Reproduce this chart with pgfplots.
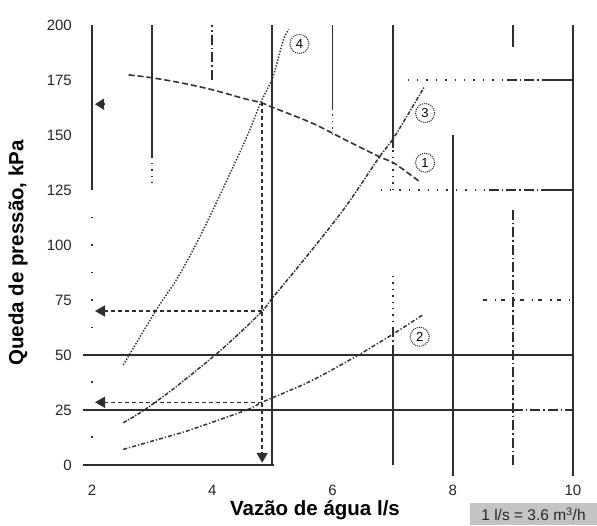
\documentclass[border=0pt]{standalone}
\usepackage{fontspec}
\setmainfont{Liberation Sans}
\usepackage{pgfplots}
\pgfplotsset{compat=1.18}
\usetikzlibrary{arrows.meta}
\definecolor{grd}{HTML}{2E2E2E}
\definecolor{crv}{HTML}{333333}
\definecolor{boxgray}{HTML}{C4C4C4}
\begin{document}
\begin{tikzpicture}
\path[use as bounding box] (-92pt,-60pt) rectangle (505pt,465pt);
\begin{axis}[
  scale only axis, width=481pt, height=440pt,
  at={(0,0)}, anchor=south west,
  xmin=2, xmax=10, ymin=0, ymax=200,
  clip=false,
  axis line style={draw=none},
  major tick length=0pt,
  xtick={2,4,6,8,10}, ytick={0,25,50,75,100,125,150,175,200},
  /pgf/number format/assume math mode=true,
  tick label style={font=\fontsize{15}{17}\selectfont, text=black!85},
  xticklabel style={anchor=center, inner sep=0pt, yshift=-25pt},
  yticklabel style={anchor=east, inner sep=0pt, xshift=-20pt},
  xlabel={Vazão de água l/s},
  ylabel={Queda de pressão, kPa},
  xlabel style={at={(axis description cs:0.4636,0)}, anchor=center, yshift=-45pt, font=\fontsize{20.5}{24}\selectfont\bfseries},
  ylabel style={at={(axis description cs:0,0.482)}, anchor=center, yshift=74pt, font=\fontsize{20.5}{24}\selectfont\bfseries},
  gridline/.style={color=grd, line width=1.8pt, forget plot},
  griddot/.style={color=grd, line width=1.8pt, dash pattern=on 1.4pt off 5pt, forget plot},
  griddd/.style={color=grd, line width=1.8pt, dash pattern=on 10pt off 3pt on 1.5pt off 3pt, forget plot},
]
% ---- grid (vertical) ----
\addplot[gridline] coordinates {(2,125) (2,200)};
\addplot[griddot, dash pattern=on 1.4pt off 26pt] coordinates {(2,0) (2,122)};
\addplot[gridline] coordinates {(3,140) (3,200)};
\addplot[griddot] coordinates {(3,128) (3,140)};
\addplot[griddd] coordinates {(4,175) (4,200)};
\addplot[gridline] coordinates {(5,0) (5,200)};
\addplot[gridline] coordinates {(6,162) (6,200)};
\addplot[griddot] coordinates {(6,150) (6,162)};
\addplot[gridline] coordinates {(7,144) (7,200)};
\addplot[griddot] coordinates {(7,125) (7,144)};
\addplot[griddot] coordinates {(7,62) (7,88)};
\addplot[griddd] coordinates {(7,50) (7,62)};
\addplot[gridline] coordinates {(7,0) (7,50)};
\addplot[gridline] coordinates {(8,-5) (8,150)};
\addplot[gridline] coordinates {(9,190) (9,200)};
\addplot[griddd] coordinates {(9,0) (9,117)};
\addplot[gridline] coordinates {(10,-5) (10,200)};
% ---- grid (horizontal) ----
\addplot[griddot, dash pattern=on 1.4pt off 8pt] coordinates {(7.25,175) (8.9,175)};
\addplot[griddd] coordinates {(8.9,175) (9.6,175)};
\addplot[gridline] coordinates {(9.6,175) (10,175)};
\addplot[griddot, dash pattern=on 1.4pt off 8pt] coordinates {(6.8,125) (8.6,125)};
\addplot[griddd] coordinates {(8.6,125) (9.5,125)};
\addplot[gridline] coordinates {(9.5,125) (10,125)};
\addplot[griddd, dash pattern=on 4pt off 8pt on 1.5pt off 5pt] coordinates {(8.5,75) (10,75)};
\addplot[gridline] coordinates {(1.85,50) (10,50)};
\addplot[gridline] coordinates {(1.85,25) (9,25)};
\addplot[griddd] coordinates {(9,25) (10,25)};
\addplot[gridline] coordinates {(1.85,0) (5.03,0)};
% ---- curves ----
% 1
\addplot[crv, line width=1.6pt, dash pattern=on 6pt off 3pt, smooth] coordinates {
(2.61,177.3) (3.0,176) (3.52,173.5) (4.01,170.5) (4.51,166.7) (4.81,164.7) (5.0,162.6)
(5.67,155.3) (6.22,147.7) (6.78,140.1) (7.03,137.1) (7.45,128.8)};
% 4
\addplot[crv, line width=1.5pt, dash pattern=on 1.4pt off 1.6pt, smooth] coordinates {
(2.52,45.5) (3.07,70.5) (3.40,84) (3.68,97.7) (3.96,113) (4.40,138.6)
(4.62,152) (4.81,165) (5.01,176.5) (5.18,193) (5.27,198)};
% 3
\addplot[crv, line width=1.5pt, dash pattern=on 4pt off 1.5pt on 1.3pt off 1.5pt, smooth] coordinates {
(2.52,19.2) (2.87,25) (3.40,35.6) (4.07,50.5) (4.51,61.4) (4.85,70.5) (5.01,76.2)
(5.62,96.5) (6.22,117.5) (6.78,140) (7.03,149.2) (7.53,172)};
% 2
\addplot[crv, line width=1.5pt, dash pattern=on 4pt off 2pt on 1.3pt off 2pt, smooth] coordinates {
(2.52,7.1) (3.35,13.6) (3.63,15.9) (4.57,25) (4.85,28.8) (5.62,37.9)
(6.38,49.2) (7.03,59.9) (7.5,68.2)};
% ---- reading arrows ----
\addplot[grd, line width=1.5pt, dash pattern=on 4pt off 3pt, -{Triangle[length=10pt,width=11pt]}] coordinates {(4.83,165) (4.83,1)};
\addplot[grd, line width=1.5pt, dash pattern=on 4pt off 3pt, -{Triangle[length=10pt,width=11pt]}] coordinates {(4.83,70) (2.05,70)};
\addplot[grd, line width=1.5pt, dash pattern=on 4pt off 3pt, -{Triangle[length=10pt,width=11pt]}] coordinates {(4.83,28.5) (2.05,28.5)};
\addplot[grd, line width=1.5pt, -{Triangle[length=9pt,width=11pt]}] coordinates {(2.22,164) (2.05,164)};
% ---- curve labels ----
\node[circle, draw=crv, densely dotted, line width=1.1pt, minimum size=19pt, inner sep=0pt, font=\fontsize{13}{14}\selectfont] at (axis cs:5.45,191.4) {4};
\node[circle, draw=crv, densely dotted, line width=1.1pt, minimum size=19pt, inner sep=0pt, font=\fontsize{13}{14}\selectfont] at (axis cs:7.54,160) {3};
\node[circle, draw=crv, densely dotted, line width=1.1pt, minimum size=19pt, inner sep=0pt, font=\fontsize{13}{14}\selectfont] at (axis cs:7.54,137.4) {1};
\node[circle, draw=crv, densely dotted, line width=1.1pt, minimum size=19pt, inner sep=0pt, font=\fontsize{13}{14}\selectfont] at (axis cs:7.45,58.3) {2};
\end{axis}
\node[fill=boxgray, minimum width=127pt, minimum height=22pt, inner sep=0pt, font=\fontsize{15.5}{18}\selectfont, text=black!85] at (441.5pt,-49pt) {1 l/s = 3.6 m\textsuperscript{3}/h};
\end{tikzpicture}
\end{document}
